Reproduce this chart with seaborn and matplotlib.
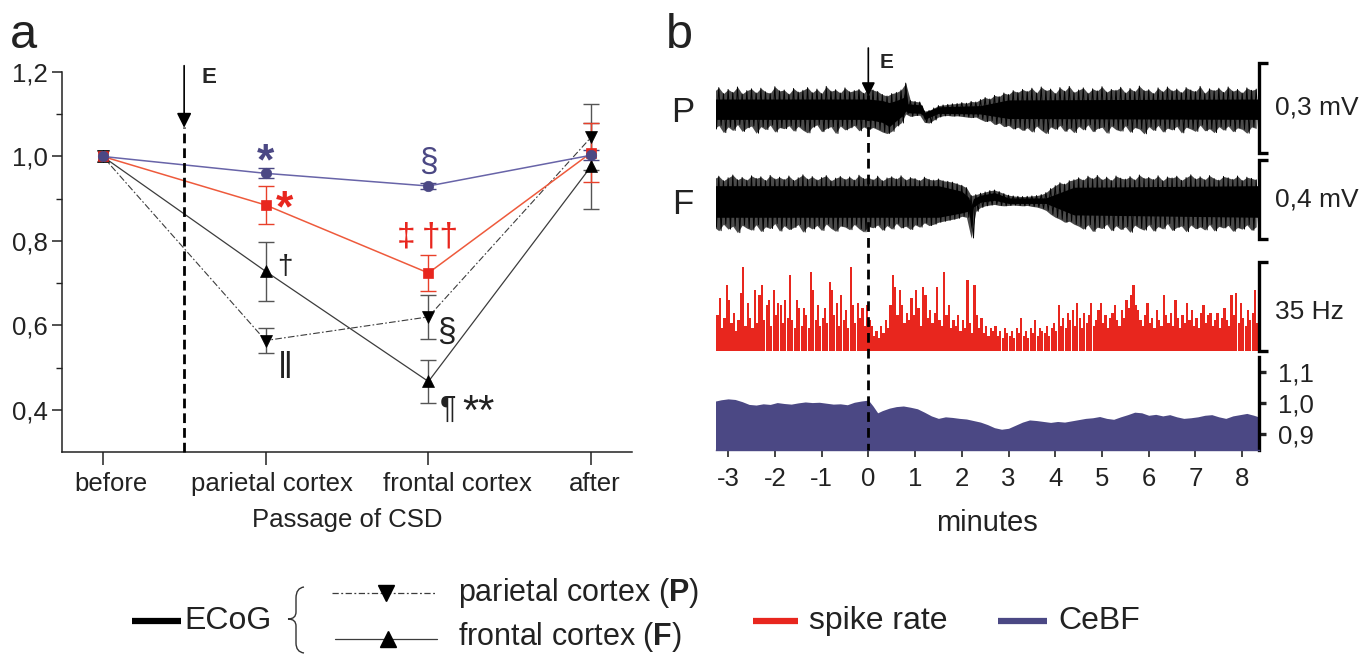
import numpy as np
import matplotlib
matplotlib.use("Agg")
import matplotlib.pyplot as plt
import matplotlib.transforms as mtransforms
from matplotlib.path import Path
from matplotlib.patches import PathPatch
from matplotlib.ticker import FuncFormatter, FixedLocator
import seaborn as sns

# ---------------- panel a data ----------------
stages = ["before", "parietal cortex", "frontal cortex", "after"]
cebf_mean = [1.0, 0.960, 0.930, 1.003]
cebf_err = [0.0, 0.012, 0.006, 0.012]
spike_mean = [1.0, 0.885, 0.724, 1.009]
spike_err = [0.0, 0.045, 0.043, 0.070]
ecog_f_mean = [1.0, 0.728, 0.467, 0.977]
ecog_f_err = [0.0, 0.070, 0.051, 0.102]
ecog_p_mean = [1.0, 0.564, 0.620, 1.046]
ecog_p_err = [0.0, 0.030, 0.053, 0.078]

# ---------------- panel b data ----------------
ecog_t0, ecog_dt = -3.3, 0.1   # minutes
# parietal ECoG envelope (microvolts)
p_upper = [55, 68, 48, 62, 52, 70, 47, 58, 64, 50, 66, 54, 49, 71, 57, 60, 46, 65, 53, 59,
           68, 51, 63, 48, 72, 56, 61, 50, 67, 54, 58, 62, 49, 66,
           60, 55, 45, 40, 48, 52, 60, 83, 25, 22, 20, -10, -8, 0, 8, 10, 12, 14, 15, 18,
           16, 22, 20, 28, 35, 30, 42, 38, 50, 45, 58, 52, 62,
           55, 66, 50, 70, 58, 63, 48, 68, 56, 72, 52, 60, 67, 49, 64, 57, 71, 53, 62, 59,
           69, 50, 65, 55, 73, 58, 61, 48, 67, 54, 70, 57, 63, 51, 68, 60, 55, 72, 49, 64,
           58, 66, 52, 70, 56, 62, 50, 67, 59, 63]
p_lower = [-70, -58, -82, -63, -75, -55, -78, -66, -60, -84, -62, -72, -57, -80, -65, -69, -59,
           -77, -61, -74, -83, -64, -56, -79, -68, -62, -85, -60, -73, -66, -58, -76, -63, -71,
           -65, -72, -80, -85, -78, -60, -50, -20, -28, -25, -24, -48, -50, -40, -30, -26, -25,
           -27, -26, -28, -30, -32, -30, -38, -45, -42, -55, -50, -62, -58, -70, -64, -75,
           -66, -80, -60, -74, -85, -63, -71, -58, -78, -67, -82, -61, -73, -56, -79, -68, -64,
           -84, -60, -72, -77, -59, -81, -65, -70, -86, -62, -75, -58, -80, -67, -73, -61, -83,
           -64, -70, -78, -57, -76, -69, -82, -62, -74, -60, -79, -66, -71, -84, -63, -68]
p_core_t = [-3.3, 0.0, 0.3, 0.45, 0.6, 0.75, 0.8, 0.85, 1.15, 1.2, 1.5, 2.4, 3.0, 8.35]
p_core_upper = [30, 30, 25, 18, 25, 35, 65, 14, 10, -15, 4, 8, 27, 30]
p_core_lower = [-38, -38, -48, -62, -42, -24, -10, -16, -18, -38, -18, -20, -35, -38]

# frontal ECoG envelope (microvolts)
f_upper = [105, 118, 95, 110, 124, 100, 112, 98, 120, 107, 115, 96, 122, 104, 113, 101, 119, 97,
           110, 125, 103, 116, 99, 111, 121, 95, 108, 117, 102, 114, 98, 123, 106, 112, 100, 118,
           95, 109, 115, 104, 120, 99, 111, 106, 96, 113, 102, 98, 104, 95,
           92, 88, 80, 72, 60,
           20, 25, 32, 38, 45, 48, 40, 30, 22, 18, 16, 15, 16, 18, 20, 25, 35, 55, 70, 85, 78, 95, 100,
           110, 98, 118, 105, 122, 100, 113, 96, 119, 108, 103, 116, 99, 124, 107, 112, 101, 120,
           95, 114, 109, 118, 97, 111, 125, 104, 115, 100, 121, 106, 98, 117, 110, 102, 119, 96,
           113, 107, 100]
f_lower = [-140, -158, -125, -150, -135, -168, -130, -145, -155, -128, -162, -138, -147, -122,
           -160, -133, -152, -142, -127, -165, -136, -149, -131, -157, -124, -146, -161, -134,
           -139, -153, -126, -148, -164, -137, -143, -129, -156, -132, -150, -121, -144, -135,
           -152, -128, -140, -118, -132, -125, -115, -110,
           -105, -100, -95, -85, -90,
           -195, -60, -40, -32, -28, -25, -30, -32, -30, -28, -30, -32, -30, -35, -38, -45, -55,
           -75, -90, -100, -115, -110, -125,
           -135, -150, -128, -162, -140, -147, -125, -158, -133, -152, -138, -166, -130, -145,
           -155, -127, -160, -137, -149, -122, -157, -141, -134, -163, -129, -148, -139, -154,
           -126, -159, -136, -144, -131, -161, -142, -150, -128, -156, -138]
f_core_t = [-3.3, 1.5, 2.0, 2.15, 2.2, 2.25, 2.4, 2.7, 3.0, 3.8, 4.4, 8.35]
f_core_upper = [70, 70, 42, 10, -30, 5, 22, 35, 8, 8, 62, 70]
f_core_lower = [-90, -90, -68, -58, -150, -38, -14, -4, -20, -20, -78, -90]

# spike rate histogram (Hz)
spike_t0, spike_dt = -3.3, 0.05
spike_rate = [10, 14, 21, 9, 13, 26,
              20, 11, 15, 8, 12, 23, 33, 10, 19, 13, 9, 24, 11, 22, 26, 12, 18, 20, 10, 24,
              14, 19, 18, 11, 20, 13, 30, 12, 9, 20, 17, 10, 17, 14, 9, 31, 24, 12, 18, 10,
              13, 17, 11, 27, 24, 14, 19, 10, 22, 12, 16, 9, 33, 18, 11, 19, 13, 17, 10, 18,
              12, 10, 6, 8, 5, 10, 7, 12, 9, 18, 30, 25, 14, 24, 18, 11, 15, 12, 21, 14,
              24, 17, 10, 25, 22, 13, 16, 11, 15, 25, 12, 10, 31, 14, 18, 9, 12, 10, 14, 8,
              12, 9, 28, 11, 7, 26, 14, 9, 13, 7, 10, 6, 9, 8, 10, 6, 8, 5, 9, 7,
              6, 8, 5, 9, 7, 13, 6, 8, 5, 9, 7, 12, 6, 9, 8, 7, 10, 6, 9, 11,
              8, 18, 10, 13, 9, 15, 12, 16, 10, 19, 13, 9, 15, 11, 14, 19, 10, 12, 16, 19,
              11, 14, 9, 13, 15, 18, 12, 10, 16, 13, 20, 17, 22, 26, 18, 16, 12, 10, 14, 19,
              11, 13, 9, 16, 12, 10, 22, 14, 11, 15, 10, 20, 13, 9, 14, 11, 19, 12, 16, 10,
              13, 9, 15, 18, 11, 14, 15, 10, 12, 15, 9, 13, 17, 12, 10, 22, 14, 23, 11, 19,
              13, 10, 16, 12, 15, 24, 11]

# CeBF trace (relative)
cebf_t = [-3.3, -3.15, -3.0, -2.85, -2.7, -2.55, -2.4, -2.25, -2.1, -1.95, -1.8, -1.65, -1.5,
          -1.35, -1.2, -1.05, -0.9, -0.75, -0.6, -0.45, -0.3, -0.15, 0.0, 0.1, 0.2, 0.3,
          0.45, 0.6, 0.75, 0.9, 1.05, 1.2, 1.35, 1.5, 1.65, 1.8, 1.95, 2.1, 2.25, 2.4, 2.55,
          2.7, 2.85, 3.0, 3.15, 3.3, 3.45, 3.6, 3.75, 3.9, 4.05, 4.2, 4.35, 4.5, 4.65, 4.8,
          4.95, 5.1, 5.25, 5.4, 5.55, 5.7, 5.85, 6.0, 6.15, 6.3, 6.45, 6.6, 6.75, 6.9, 7.05,
          7.2, 7.35, 7.5, 7.65, 7.8, 7.95, 8.1, 8.25, 8.35]
cebf_trace = [1.005, 1.010, 1.013, 1.011, 1.004, 0.995, 0.993, 0.997, 0.995, 1.001, 0.998,
              0.996, 1.000, 1.003, 1.001, 1.002, 0.999, 0.996, 0.997, 0.994, 1.002, 1.006,
              1.009, 0.990, 0.968, 0.975,
              0.983, 0.988, 0.990, 0.986, 0.981, 0.970, 0.958, 0.950, 0.955, 0.953, 0.950,
              0.948, 0.943, 0.938, 0.930, 0.920, 0.915, 0.918, 0.928, 0.938, 0.945, 0.943,
              0.940, 0.937, 0.940, 0.938, 0.942, 0.946, 0.950, 0.952, 0.956, 0.950, 0.947,
              0.955, 0.962, 0.970, 0.968, 0.960, 0.963, 0.958, 0.962, 0.955, 0.950, 0.952,
              0.955, 0.960, 0.962, 0.955, 0.950, 0.958, 0.962, 0.966, 0.960, 0.955]
minute_ticks = [-3, -2, -1, 0, 1, 2, 3, 4, 5, 6, 7, 8]
cebf_ticks = [0.9, 1.0, 1.1]

# ---------------- style ----------------
sns.set_theme(style="ticks")
FONTS = ["Liberation Sans", "DejaVu Sans"]
plt.rcParams["font.family"] = FONTS
plt.rcParams["mathtext.fontset"] = "custom"
plt.rcParams["mathtext.rm"] = "Liberation Sans"
plt.rcParams["mathtext.bf"] = "Liberation Sans:bold"

RED = "#e8261e"
RED_LINE = "#ee5a3c"
NAVY = "#4b4884"
BLUE_LINE = "#6864a8"
GRAY = "#3c3c3c"
TXT = "#222222"
W, H = 1368, 656

fig = plt.figure(figsize=(W / 100, H / 100), dpi=100)
comma = FuncFormatter(lambda v, p: f"{v:.1f}".replace(".", ","))

def fr(x0, y0, x1, y1):
    return [x0 / W, 1 - y1 / H, (x1 - x0) / W, (y1 - y0) / H]

# ---------------- panel a ----------------
ax = fig.add_axes(fr(62, 72, 632, 452))
pos = np.arange(len(stages))
for mean, err, col, ecol, mk, ms, ls, lw, fc in [
    (ecog_p_mean, ecog_p_err, GRAY, "#555555", "v", 8, (0, (6, 2, 1.5, 2)), 0.8, "black"),
    (ecog_f_mean, ecog_f_err, GRAY, "#555555", "^", 8, "-", 0.9, "black"),
    (spike_mean, spike_err, RED_LINE, "#e8402a", "s", 6.5, "-", 1.1, RED),
    (cebf_mean, cebf_err, BLUE_LINE, NAVY, "o", 7.5, "-", 1.1, NAVY),
]:
    ax.errorbar(pos[1:], mean[1:], yerr=err[1:], fmt="none", ecolor=ecol,
                elinewidth=1.0, capsize=5.5, capthick=1.0, zorder=2)
    sns.lineplot(x=pos, y=mean, ax=ax, color=col, linestyle=ls, linewidth=lw,
                 marker=mk, markersize=ms, markerfacecolor=fc, markeredgecolor=fc,
                 markeredgewidth=0.5, zorder=3)

ax.set_xlim(-0.25, 3.25)
ax.set_ylim(0.3, 1.2)
ax.set_xticks(pos)
ax.set_xticklabels([])
# category labels (the reference sets them slightly off their ticks)
lab_tr = mtransforms.blended_transform_factory(ax.transData, ax.transAxes)
for p, name, dx in zip(pos, stages, [0.05, 0.04, 0.18, 0.02]):
    ax.text(p + dx, -0.085, name, transform=lab_tr, ha="center", va="center",
            fontsize=18.5, color=TXT)
ax.yaxis.set_major_locator(FixedLocator([0.4, 0.6, 0.8, 1.0, 1.2]))
ax.yaxis.set_minor_locator(FixedLocator([0.5, 0.7, 0.9, 1.1]))
ax.yaxis.set_major_formatter(comma)
for s in ("top", "right"):
    ax.spines[s].set_visible(False)
for s in ("left", "bottom"):
    ax.spines[s].set_linewidth(1.1)
    ax.spines[s].set_color(TXT)
ax.tick_params(axis="y", which="major", direction="out", length=7, width=1.1,
               labelsize=18.5, colors=TXT, pad=3)
ax.tick_params(axis="y", which="minor", direction="out", length=4, width=1.0, colors=TXT)
ax.tick_params(axis="x", direction="out", length=9, width=1.1, colors=TXT)
ax.text(0.5, -0.178, "Passage of CSD", transform=ax.transAxes, ha="center", va="center",
        fontsize=18.5, color=TXT)
ax.set_xlabel("")
ax.set_ylabel("")

# E marker
ax.plot([0.5, 0.5], [0.3, 1.07], color="black", lw=2.0, ls=(0, (3.5, 1.8)), zorder=4, clip_on=False)
ax.annotate("", xy=(0.5, 1.068), xytext=(0.5, 1.215), xycoords="data",
            arrowprops=dict(arrowstyle="-|>", color="black", lw=1.2, mutation_scale=22,
                            shrinkA=0, shrinkB=0), annotation_clip=False)
ax.text(0.65, 1.188, "E", fontsize=16, fontweight="bold", ha="center", va="center")

tk = dict(ha="center", va="center", family=FONTS)
ax.text(1.0, 0.985, "*", color=NAVY, fontsize=32, fontweight="bold", **tk)
ax.text(2.0, 0.987, "§", color=NAVY, fontsize=24, **tk)
ax.text(1.117, 0.873, "*", color=RED, fontsize=32, fontweight="bold", **tk)
ax.text(1.86, 0.81, "‡", color=RED, fontsize=24, **tk)
ax.text(2.07, 0.81, "††", color=RED, fontsize=24, **tk)
ax.text(1.12, 0.738, "†", color=TXT, fontsize=20, **tk)
ax.text(1.12, 0.497, "‖", color=TXT, fontsize=26, **tk)
ax.text(2.11, 0.584, "§", color=TXT, fontsize=24, **tk)
ax.text(2.12, 0.40, "¶", color=TXT, fontsize=22, **tk)
ax.text(2.31, 0.392, "**", color=TXT, fontsize=30, **tk)

# ---------------- panel b ----------------
BX0, BX1 = 715.5, 1259
XL = (-3.27, 8.36)
axP = fig.add_axes(fr(BX0, 63, BX1, 153))
axF = fig.add_axes(fr(BX0, 160, BX1, 239))
axS = fig.add_axes(fr(BX0, 262, BX1, 351))
axC = fig.add_axes(fr(BX0, 357, BX1, 450))
for a in (axP, axF, axS, axC):
    a.set_xlim(*XL)
    a.patch.set_alpha(0)
for a in (axP, axF, axS):
    a.axis("off")

t_ecog = ecog_t0 + ecog_dt * np.arange(len(p_upper))
zig_t = np.column_stack([t_ecog, t_ecog + ecog_dt / 2]).ravel()

for a, up, lo, ct, cu, cl, yl in [
    (axP, p_upper, p_lower, p_core_t, p_core_upper, p_core_lower, 150),
    (axF, f_upper, f_lower, f_core_t, f_core_upper, f_core_lower, 200),
]:
    a.fill_between(t_ecog, lo, up, color="#4a4a4a", lw=0)
    a.plot(zig_t, np.column_stack([up, lo]).ravel(), color="black", lw=0.7)
    a.fill_between(ct, cl, cu, color="black", lw=0)
    a.set_ylim(-yl, yl)

t_spk = spike_t0 + spike_dt * np.arange(len(spike_rate))
axS.bar(t_spk, spike_rate, width=0.047, color=RED, linewidth=0, align="edge")
axS.set_ylim(0, 35)

axC.fill_between(cebf_t, 0.848, cebf_trace, color=NAVY, lw=0)
axC.set_ylim(0.848, 1.148)
axC.yaxis.tick_right()
axC.set_yticks(cebf_ticks)
axC.yaxis.set_major_formatter(comma)
axC.set_xticks(minute_ticks)
axC.set_xticklabels([str(m) for m in minute_ticks])
for s in ("top", "left"):
    axC.spines[s].set_visible(False)
axC.spines["right"].set_linewidth(2.4)
axC.spines["right"].set_color("black")
axC.spines["bottom"].set_color(NAVY)
axC.spines["bottom"].set_linewidth(1.0)
axC.tick_params(axis="y", direction="out", length=5, width=2.4, labelsize=18.5,
                colors=TXT, pad=9)
axC.tick_params(axis="x", direction="out", length=5, width=1.2, labelsize=18.5,
                colors=TXT, pad=7)
axC.set_xlabel("minutes", fontsize=21, color=TXT, labelpad=13)

for a in (axP, axF, axS):
    a.plot([1.017, 1.0, 1.0, 1.017], [1, 1, 0, 0], transform=a.transAxes, color="black",
           lw=2.4, clip_on=False, solid_joinstyle="miter", solid_capstyle="butt")

# overlay for labels and legend, in pixel coordinates
lg = fig.add_axes([0, 0, 1, 1], zorder=10)
lg.patch.set_alpha(0)
lg.axis("off")
trb = mtransforms.blended_transform_factory(axC.transData, lg.transData)
lg.plot([0, 0], [95, 450], transform=trb, color="black", lw=2.0, ls=(0, (3.5, 2.2)))
lg.annotate("", xy=(0, 96), xytext=(0, 48), xycoords=trb, textcoords=trb,
            arrowprops=dict(arrowstyle="-|>", color="black", lw=1.2, mutation_scale=20,
                            shrinkA=0, shrinkB=0))

lg.text(887, 63, "E", fontsize=15, fontweight="bold", ha="center", va="center")
lg.text(683, 112, "P", fontsize=25, ha="center", va="center", color=TXT)
lg.text(683, 205, "F", fontsize=25, ha="center", va="center", color=TXT)
lg.text(1275, 108, "0,3 mV", fontsize=19, ha="left", va="center", color=TXT)
lg.text(1275, 200, "0,4 mV", fontsize=19, ha="left", va="center", color=TXT)
lg.text(1275, 312, "35 Hz", fontsize=19, ha="left", va="center", color=TXT)
lg.text(10, 48, "a", fontsize=35, ha="left", va="baseline", color=TXT)
lg.text(666, 48, "b", fontsize=35, ha="left", va="baseline", color=TXT)

# legend
LF = 22
lg.plot([132, 181], [621, 621], color="black", lw=4.5, solid_capstyle="butt")
lg.text(184, 621, "ECoG", fontsize=LF + 1, ha="left", va="center", color=TXT)
brace = Path([(304, 587), (296, 588), (296, 598), (296, 612), (296, 619), (288, 619),
              (296, 619), (296, 626), (296, 643), (296, 652), (304, 653)],
             [Path.MOVETO, Path.CURVE3, Path.CURVE3, Path.LINETO, Path.CURVE3, Path.CURVE3,
              Path.CURVE3, Path.CURVE3, Path.LINETO, Path.CURVE3, Path.CURVE3])
lg.add_patch(PathPatch(brace, fill=False, lw=1.0, color="#333333"))
lg.plot([332, 437], [593, 593], color=GRAY, lw=0.9, ls=(0, (5, 2, 1.5, 2)))
lg.plot([386], [593], marker="v", ms=12, color="black", ls="none")
lg.text(458, 593, "parietal cortex ($\\mathbf{P}$)", fontsize=LF, ha="left", va="center",
        color=TXT)
lg.plot([335, 437], [639, 639], color=GRAY, lw=0.9)
lg.plot([388], [639], marker="^", ms=12, color="black", ls="none")
lg.text(458, 637, "frontal cortex ($\\mathbf{F}$)", fontsize=LF, ha="left", va="center",
        color=TXT)
lg.plot([753, 798], [621, 621], color=RED, lw=4.5, solid_capstyle="butt")
lg.text(809, 621, "spike rate", fontsize=LF + 1, ha="left", va="center", color=TXT)
lg.plot([998, 1047], [621, 621], color=NAVY, lw=4.5, solid_capstyle="butt")
lg.text(1058, 621, "CeBF", fontsize=LF + 1, ha="left", va="center", color=TXT)
lg.set_xlim(0, W)
lg.set_ylim(H, 0)

fig.savefig("out.png", dpi=100)
